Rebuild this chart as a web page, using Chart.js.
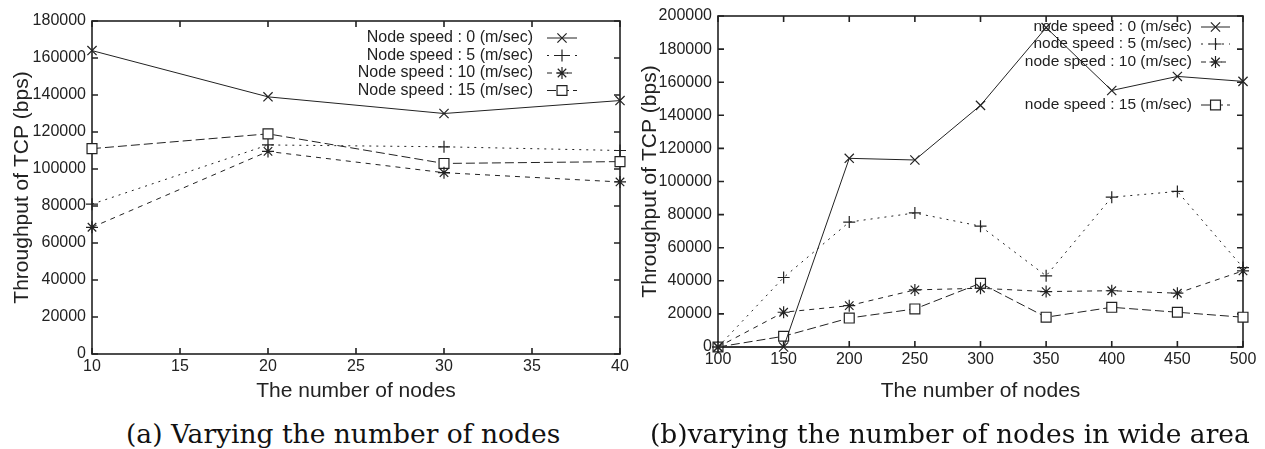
<!DOCTYPE html>
<html>
<head>
<meta charset="utf-8">
<script src="https://cdn.jsdelivr.net/npm/chart.js@4.4.1/dist/chart.umd.min.js"></script>
<style>
  body { margin: 0; width: 1265px; height: 449px; overflow: hidden; background: #fff; position: relative; }
  #wrapA { position: absolute; left: 0; top: 0; width: 640px; height: 404px; }
  #wrapB { position: absolute; left: 630px; top: 0; width: 635px; height: 404px; }
  .cap { position: absolute; font-family: "DejaVu Serif", "Liberation Serif", serif; font-size: 26.5px; color: #111; white-space: nowrap; line-height: 26.5px; }
</style>
</head>
<body>
<div id="wrapA"><canvas id="chartA"></canvas></div>
<div id="wrapB"><canvas id="chartB"></canvas></div>
<div class="cap" id="capA" style="left:126px; top:421px;">(a) Varying the number of nodes</div>
<div class="cap" id="capB" style="left:650px; top:421px;">(b)varying the number of nodes in wide area</div>
<script>
// (a) varying the number of nodes
var nodesA = [10, 20, 30, 40];
var speed0A = [164000, 139000, 130000, 137000];
var speed5A = [81000, 113000, 112000, 110000];
var speed10A = [68500, 109500, 98000, 93000];
var speed15A = [111000, 119000, 103000, 104000];
var xTicksA = [10, 15, 20, 25, 30, 35, 40];
var yTicksA = [0, 20000, 40000, 60000, 80000, 100000, 120000, 140000, 160000, 180000];
var labelsA = ["Node speed : 0 (m/sec)", "Node speed : 5 (m/sec)", "Node speed : 10 (m/sec)", "Node speed : 15 (m/sec)"];

// (b) wide area
var nodesB = [100, 150, 200, 250, 300, 350, 400, 450, 500];
var speed0B = [0, 0, 114000, 113000, 146000, 193000, 155000, 163500, 160500];
var speed5B = [0, 42000, 75500, 81000, 73000, 43000, 90500, 94000, 48000];
var speed10B = [0, 21000, 25000, 34500, 35500, 33500, 34000, 32500, 46000];
var speed15B = [0, 6500, 17500, 23000, 38500, 18000, 24000, 21000, 18000];
var xTicksB = [100, 150, 200, 250, 300, 350, 400, 450, 500];
var yTicksB = [0, 20000, 40000, 60000, 80000, 100000, 120000, 140000, 160000, 180000, 200000];
var labelsB = ["node speed : 0 (m/sec)", "node speed : 5 (m/sec)", "node speed : 10 (m/sec)", "node speed : 15 (m/sec)"];

var ink = "#222";
var markers = ["crossRot", "cross", "star", "rect"];
var radii = [6.5, 6, 6, 7];
var dashes = [[], [2, 5], [5, 5], [9, 4]];

Chart.defaults.font.family = '"Liberation Sans", Arial, sans-serif';
Chart.defaults.color = ink;

function pts(xs, ys) {
  return xs.map(function (x, i) { return { x: x, y: ys[i] }; });
}

function makeSets(xs, series, labels) {
  return series.map(function (ys, i) {
    return {
      label: labels[i],
      data: pts(xs, ys),
      borderColor: ink,
      borderWidth: 1,
      borderDash: dashes[i],
      pointStyle: markers[i],
      pointRadius: radii[i],
      pointBorderColor: ink,
      pointBackgroundColor: "#fff",
      pointBorderWidth: 1.2,
      fill: false,
      tension: 0,
      clip: false
    };
  });
}

// gnuplot style frame with inward ticks on all four sides
var frameTicks = {
  id: "frameTicks",
  beforeDatasetsDraw: function (chart) {
    var a = chart.chartArea, ctx = chart.ctx;
    var x = chart.scales.x, y = chart.scales.y;
    ctx.save();
    ctx.strokeStyle = ink;
    ctx.lineWidth = 1.6;
    ctx.strokeRect(a.left, a.top, a.right - a.left, a.bottom - a.top);
    ctx.beginPath();
    x.ticks.forEach(function (t) {
      var px = x.getPixelForValue(t.value);
      ctx.moveTo(px, a.bottom); ctx.lineTo(px, a.bottom - 6);
      ctx.moveTo(px, a.top); ctx.lineTo(px, a.top + 6);
    });
    y.ticks.forEach(function (t) {
      var py = y.getPixelForValue(t.value);
      ctx.moveTo(a.left, py); ctx.lineTo(a.left + 6, py);
      ctx.moveTo(a.right, py); ctx.lineTo(a.right - 6, py);
    });
    ctx.stroke();
    ctx.restore();
  }
};

// key: text right aligned, then the line sample with its marker
var gnuKey = {
  id: "gnuKey",
  afterDraw: function (chart) {
    var k = chart.options.plugins.gnuKey;
    var ctx = chart.ctx;
    ctx.save();
    ctx.font = k.size + "px " + Chart.defaults.font.family;
    ctx.textAlign = "right";
    ctx.textBaseline = "middle";
    chart.data.datasets.forEach(function (ds, i) {
      var ry = k.rows[i];
      ctx.fillStyle = ink;
      ctx.fillText(ds.label, k.textRight, ry);
      ctx.strokeStyle = ink;
      ctx.lineWidth = 1;
      ctx.setLineDash(ds.borderDash);
      ctx.beginPath();
      ctx.moveTo(k.x0, ry); ctx.lineTo(k.x1, ry);
      ctx.stroke();
      ctx.setLineDash([]);
      ctx.fillStyle = "#fff";
      ctx.lineWidth = 1.2;
      Chart.helpers.drawPoint(ctx, { pointStyle: ds.pointStyle, radius: ds.pointRadius, borderWidth: 1.2, rotation: 0 }, (k.x0 + k.x1) / 2, ry);
    });
    ctx.restore();
  }
};

function plain(v) { return String(v); }

function makeChart(id, xs, series, labels, xTicks, yTicks, box, key) {
  return new Chart(document.getElementById(id), {
    type: "line",
    data: { datasets: makeSets(xs, series, labels) },
    plugins: [frameTicks, gnuKey],
    options: {
      responsive: true,
      maintainAspectRatio: false,
      animation: false,
      layout: { padding: { top: box.top, right: box.right, left: 0, bottom: 0 } },
      plugins: {
        legend: { display: false },
        tooltip: { enabled: false },
        gnuKey: key
      },
      scales: {
        x: {
          type: "linear",
          min: xTicks[0],
          max: xTicks[xTicks.length - 1],
          afterBuildTicks: function (s) { s.ticks = xTicks.map(function (v) { return { value: v }; }); },
          afterFit: function (s) { s.height = box.xh; },
          grid: { display: false, drawTicks: false },
          border: { display: false },
          ticks: { font: { size: 16 }, padding: 3, maxRotation: 0, color: ink, callback: plain },
          title: { display: true, text: "The number of nodes", font: { size: 21 }, color: ink, padding: { top: 0, bottom: 0 } }
        },
        y: {
          min: yTicks[0],
          max: yTicks[yTicks.length - 1],
          afterBuildTicks: function (s) { s.ticks = yTicks.map(function (v) { return { value: v }; }); },
          afterFit: function (s) { s.width = box.yw; },
          grid: { display: false, drawTicks: false },
          border: { display: false },
          ticks: { font: { size: 16 }, padding: 6, color: ink, callback: plain },
          title: { display: true, text: "Throughput of TCP (bps)", font: { size: 21 }, color: ink, padding: { top: box.tpad, bottom: 0 } }
        }
      }
    }
  });
}

makeChart("chartA", nodesA, [speed0A, speed5A, speed10A, speed15A], labelsA, xTicksA, yTicksA,
  { top: 21, right: 20, yw: 92, xh: 50, tpad: 10 },
  { size: 16, textRight: 533, x0: 547, x1: 577, rows: [38, 55.5, 73, 90.5] });

makeChart("chartB", nodesB, [speed0B, speed5B, speed10B, speed15B], labelsB, xTicksB, yTicksB,
  { top: 16, right: 22, yw: 88, xh: 57, tpad: 8 },
  { size: 15.5, textRight: 562, x0: 571, x1: 600, rows: [27, 44, 62, 105] });
</script>
</body>
</html>
